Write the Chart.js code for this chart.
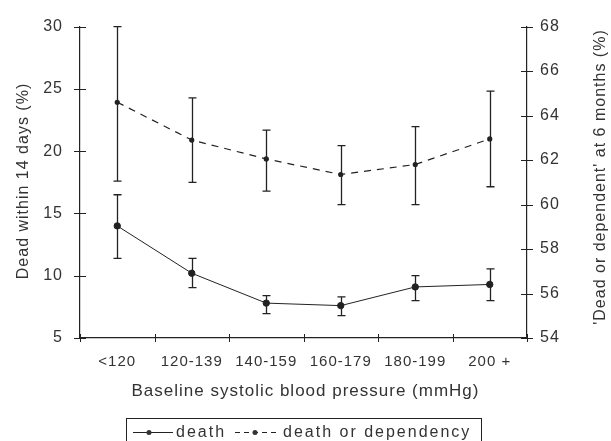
<!DOCTYPE html>
<html>
<head>
<meta charset="utf-8">
<script src="https://cdn.jsdelivr.net/npm/chart.js@4"></script>
<style>
  html, body { margin: 0; padding: 0; background: #fff; }
  #wrap { width: 611px; height: 441px; }
</style>
</head>
<body>
<div id="wrap"><canvas id="bp-chart" width="611" height="441"></canvas></div>
<script>
// categories and values
var categories = ['<120', '120-139', '140-159', '160-179', '180-199', '200 +'];
var deathValues = [14.0, 10.2, 7.8, 7.6, 9.1, 9.3];
var deathLow = [11.4, 9.05, 6.95, 6.8, 8.0, 8.0];
var deathHigh = [16.5, 11.4, 8.4, 8.3, 10.0, 10.55];
var depValues = [64.6, 62.9, 62.05, 61.35, 61.8, 62.95];
var depLow = [61.05, 61.0, 60.6, 60.0, 60.0, 60.8];
var depHigh = [68.0, 64.8, 63.35, 62.65, 63.5, 65.1];
var leftTicks = [5, 10, 15, 20, 25, 30];
var rightTicks = [54, 56, 58, 60, 62, 64, 66, 68];

var ink = '#222';
var textInk = '#333';
var fontFam = "'Liberation Sans', Arial, sans-serif";

var canvas = document.getElementById('bp-chart');
var ctx = canvas.getContext('2d');

// spaced-out lettering like the scanned figure
var spacing = {
    id: 'spacing',
    beforeLayout: function(chart) { chart.ctx.letterSpacing = '1px'; },
    beforeDraw: function(chart) { chart.ctx.letterSpacing = '1px'; }
};

// error bars, drawn through the scales
var errorBars = {
    id: 'errorBars',
    afterDatasetsDraw: function(chart) {
        var c = chart.ctx;
        var x = chart.scales.x;
        var sets = [
            { y: chart.scales.y, lo: deathLow, hi: deathHigh },
            { y: chart.scales.y1, lo: depLow, hi: depHigh }
        ];
        c.save();
        c.strokeStyle = ink;
        c.lineWidth = 1.3;
        sets.forEach(function(s) {
            for (let i = 0; i < categories.length; i++) {
                let px = Math.round(x.getPixelForValue(i)) + 0.5;
                let top = s.y.getPixelForValue(s.hi[i]);
                let bot = s.y.getPixelForValue(s.lo[i]);
                c.beginPath();
                c.moveTo(px, top); c.lineTo(px, bot);
                c.moveTo(px - 4, top); c.lineTo(px + 4, top);
                c.moveTo(px - 4, bot); c.lineTo(px + 4, bot);
                c.stroke();
            }
        });
        c.restore();
    }
};

// tick marks crossing the axis lines
var crossTicks = {
    id: 'crossTicks',
    afterDraw: function(chart) {
        var c = chart.ctx;
        var a = chart.chartArea;
        c.save();
        c.strokeStyle = ink;
        c.lineWidth = 1;
        c.beginPath();
        chart.scales.y.ticks.forEach(function(t) {
            let py = Math.round(chart.scales.y.getPixelForValue(t.value)) + 0.5;
            c.moveTo(a.left - 6, py); c.lineTo(a.left + 6, py);
        });
        chart.scales.y1.ticks.forEach(function(t) {
            let py = Math.round(chart.scales.y1.getPixelForValue(t.value)) + 0.5;
            c.moveTo(a.right - 6, py); c.lineTo(a.right + 6, py);
        });
        var x = chart.scales.x;
        for (let i = 0; i <= categories.length; i++) {
            let px = Math.round(x.getPixelForValue(i - 0.5)) + 0.5;
            c.moveTo(px, a.bottom - 4); c.lineTo(px, a.bottom + 4);
        }
        c.stroke();
        c.restore();
    }
};

// axis titles (both y titles read bottom to top)
var axisTitles = {
    id: 'axisTitles',
    afterDraw: function(chart) {
        var c = chart.ctx;
        var a = chart.chartArea;
        c.save();
        c.fillStyle = textInk;
        c.textAlign = 'center';
        c.textBaseline = 'middle';
        c.letterSpacing = '1px';
        c.font = '17px ' + fontFam;
        c.fillText('Baseline systolic blood pressure (mmHg)', (a.left + a.right) / 2 + 2, 391);
        c.font = '16px ' + fontFam;
        c.translate(24, 181);
        c.rotate(-Math.PI / 2);
        c.fillText('Dead within 14 days (%)', 0, 0);
        c.restore();
        c.save();
        c.fillStyle = textInk;
        c.textAlign = 'center';
        c.textBaseline = 'middle';
        c.letterSpacing = '1px';
        c.font = '16px ' + fontFam;
        c.translate(601, 177);
        c.rotate(-Math.PI / 2);
        c.fillText("'Dead or dependent' at 6 months (%)", 0, 0);
        c.restore();
    }
};

// boxed legend at the bottom
var boxLegend = {
    id: 'boxLegend',
    afterDraw: function(chart) {
        var c = chart.ctx;
        c.save();
        c.font = '16px ' + fontFam;
        c.letterSpacing = '2px';
        c.fillStyle = textInk;
        c.strokeStyle = ink;
        c.lineWidth = 1;
        c.strokeRect(126.5, 418.5, 355, 30);
        var cy = 432.5;
        function sample(x, w, dot, dash) {
            c.beginPath();
            c.setLineDash(dash);
            c.moveTo(x, cy); c.lineTo(x + w, cy);
            c.stroke();
            c.setLineDash([]);
            c.beginPath();
            c.arc(dot, cy, 2.5, 0, Math.PI * 2);
            c.fill();
        }
        c.textBaseline = 'middle';
        sample(133, 40, 149, []);
        c.fillText('death', 176, cy);
        sample(235, 42, 255, [5, 4]);
        c.fillText('death or dependency', 283, cy);
        c.restore();
    }
};

var myChart = new Chart(ctx, {
    type: 'line',
    data: {
        labels: categories,
        datasets: [
            {
                label: 'death',
                data: deathValues,
                yAxisID: 'y',
                borderColor: ink,
                backgroundColor: ink,
                borderWidth: 1,
                pointRadius: 3.2,
                pointBackgroundColor: ink,
                tension: 0
            },
            {
                label: 'death or dependency',
                data: depValues,
                yAxisID: 'y1',
                borderColor: ink,
                backgroundColor: ink,
                borderWidth: 1.2,
                borderDash: [7, 6],
                pointRadius: 2,
                pointBackgroundColor: ink,
                tension: 0
            }
        ]
    },
    options: {
        responsive: false,
        animation: false,
        layout: { padding: { top: 21, left: 0, right: 0, bottom: 0 } },
        plugins: {
            legend: { display: false },
            tooltip: { enabled: false }
        },
        scales: {
            x: {
                offset: true,
                grid: { display: false, drawTicks: false },
                border: { display: true, color: ink, width: 1.2 },
                ticks: { color: textInk, font: { size: 15, family: fontFam }, padding: 15, maxRotation: 0, autoSkip: false },
                afterFit: function(s) { s.height = 103; }
            },
            y: {
                position: 'left',
                min: 5, max: 30,
                afterBuildTicks: function(s) { s.ticks = leftTicks.map(function(v) { return { value: v }; }); },
                grid: { display: false, drawTicks: false },
                border: { display: true, color: ink, width: 1.2 },
                ticks: { color: textInk, font: { size: 16, family: fontFam }, padding: 17 },
                afterFit: function(s) { s.width = 80; }
            },
            y1: {
                position: 'right',
                min: 54, max: 68,
                afterBuildTicks: function(s) { s.ticks = rightTicks.map(function(v) { return { value: v }; }); },
                grid: { display: false, drawTicks: false },
                border: { display: true, color: ink, width: 1.2 },
                ticks: { color: textInk, font: { size: 16, family: fontFam }, padding: 13 },
                afterFit: function(s) { s.width = 84; }
            }
        }
    },
    plugins: [spacing, errorBars, crossTicks, axisTitles, boxLegend]
});
</script>
</body>
</html>
